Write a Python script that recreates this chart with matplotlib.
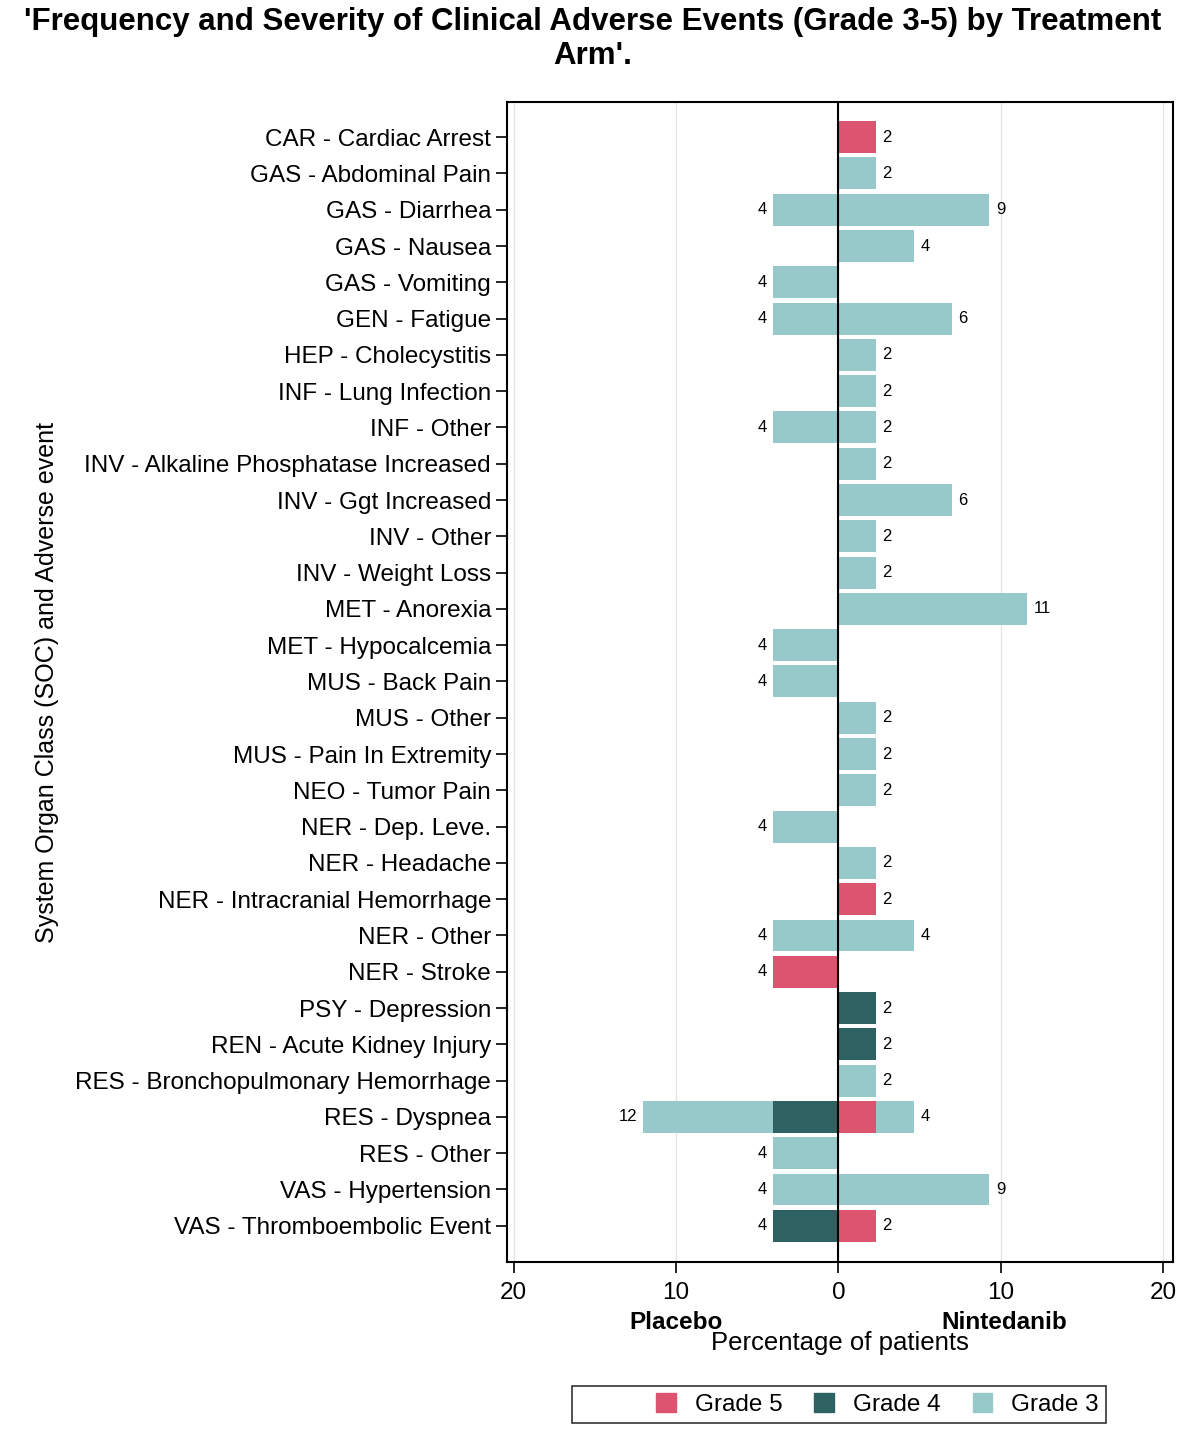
import matplotlib.pyplot as plt
from matplotlib.patches import Patch
import numpy as np

plt.rcParams['font.family'] = ['Liberation Sans', 'DejaVu Sans']

events = [
    "CAR - Cardiac Arrest", "GAS - Abdominal Pain", "GAS - Diarrhea", "GAS - Nausea",
    "GAS - Vomiting", "GEN - Fatigue", "HEP - Cholecystitis", "INF - Lung Infection",
    "INF - Other", "INV - Alkaline Phosphatase Increased", "INV - Ggt Increased",
    "INV - Other", "INV - Weight Loss", "MET - Anorexia", "MET - Hypocalcemia",
    "MUS - Back Pain", "MUS - Other", "MUS - Pain In Extremity", "NEO - Tumor Pain",
    "NER - Dep. Leve.", "NER - Headache", "NER - Intracranial Hemorrhage", "NER - Other",
    "NER - Stroke", "PSY - Depression", "REN - Acute Kidney Injury",
    "RES - Bronchopulmonary Hemorrhage", "RES - Dyspnea", "RES - Other",
    "VAS - Hypertension", "VAS - Thromboembolic Event",
]

# percentage of patients, Placebo arm
placebo_g5 = [0, 0, 0, 0, 0, 0, 0, 0, 0, 0, 0, 0, 0, 0, 0, 0, 0, 0, 0, 0, 0, 0, 0, 4.0, 0, 0, 0, 0, 0, 0, 0]
placebo_g4 = [0, 0, 0, 0, 0, 0, 0, 0, 0, 0, 0, 0, 0, 0, 0, 0, 0, 0, 0, 0, 0, 0, 0, 0, 0, 0, 0, 4.0, 0, 0, 4.0]
placebo_g3 = [0, 0, 4.0, 0, 4.0, 4.0, 0, 0, 4.0, 0, 0, 0, 0, 0, 4.0, 4.0, 0, 0, 0, 4.0, 0, 0, 4.0, 0, 0, 0, 0, 8.0, 4.0, 4.0, 0]
placebo_lbl = ["", "", "4", "", "4", "4", "", "", "4", "", "", "", "", "", "4", "4", "", "", "", "4", "", "", "4", "4", "", "", "", "12", "4", "4", "4"]

# percentage of patients, Nintedanib arm
ninted_g5 = [2.3, 0, 0, 0, 0, 0, 0, 0, 0, 0, 0, 0, 0, 0, 0, 0, 0, 0, 0, 0, 0, 2.3, 0, 0, 0, 0, 0, 2.3, 0, 0, 2.3]
ninted_g4 = [0, 0, 0, 0, 0, 0, 0, 0, 0, 0, 0, 0, 0, 0, 0, 0, 0, 0, 0, 0, 0, 0, 0, 0, 2.3, 2.3, 0, 0, 0, 0, 0]
ninted_g3 = [0, 2.3, 9.3, 4.65, 0, 7.0, 2.3, 2.3, 2.3, 2.3, 7.0, 2.3, 2.3, 11.6, 0, 0, 2.3, 2.3, 2.3, 0, 2.3, 0, 4.65, 0, 0, 0, 2.3, 2.35, 0, 9.3, 0]
ninted_lbl = ["2", "2", "9", "4", "", "6", "2", "2", "2", "2", "6", "2", "2", "11", "", "", "2", "2", "2", "", "2", "2", "4", "", "2", "2", "2", "4", "", "9", "2"]

c5, c4, c3 = "#dc5470", "#2e6262", "#97c9ca"

y = np.arange(len(events))
p5 = np.array(placebo_g5)
p4 = np.array(placebo_g4)
p3 = np.array(placebo_g3)
n5 = np.array(ninted_g5)
n4 = np.array(ninted_g4)
n3 = np.array(ninted_g3)

fig = plt.figure(figsize=(11.86, 14.46), dpi=100)
ax = fig.add_axes([0.4275, 0.1272, 0.5615, 0.8023])

h = 0.88
# placebo to the left (negative), nintedanib to the right
ax.barh(y, -p5, height=h, color=c5, zorder=2)
ax.barh(y, -p4, left=-p5, height=h, color=c4, zorder=2)
ax.barh(y, -p3, left=-(p5 + p4), height=h, color=c3, zorder=2)
ax.barh(y, n5, height=h, color=c5, zorder=2)
ax.barh(y, n4, left=n5, height=h, color=c4, zorder=2)
ax.barh(y, n3, left=n5 + n4, height=h, color=c3, zorder=2)

ptot = p5 + p4 + p3
ntot = n5 + n4 + n3
for i in range(len(events)):
    if placebo_lbl[i]:
        ax.text(-ptot[i] - 0.4, y[i], placebo_lbl[i], ha="right", va="center", fontsize=12)
    if ninted_lbl[i]:
        ax.text(ntot[i] + 0.4, y[i], ninted_lbl[i], ha="left", va="center", fontsize=12)

ax.axvline(0, color="black", lw=1.5, zorder=3)
ax.set_xlim(-20.4, 20.6)
ax.set_ylim(31.0, -0.97)
ax.set_xticks([-20, -10, 0, 10, 20])
ax.set_xticklabels(["20", "10", "0", "10", "20"])
ax.set_yticks(y)
ax.set_yticklabels(events)
ax.xaxis.grid(True, color="#e6e6e6", lw=1, zorder=0)
ax.tick_params(axis="both", labelsize=17.5, length=8, width=1.2, direction="out")
ax.tick_params(axis="x", pad=6)
for s in ax.spines.values():
    s.set_linewidth(1.5)

ax.set_xlabel("Percentage of patients", fontsize=18.5, labelpad=20)
ax.set_ylabel("System Organ Class (SOC) and Adverse event", fontsize=18, labelpad=12)
ax.text(-10, -0.052, "Placebo", transform=ax.get_xaxis_transform(), ha="center", va="center",
        fontsize=17.5, fontweight="bold")
ax.text(10.2, -0.052, "Nintedanib", transform=ax.get_xaxis_transform(), ha="center", va="center",
        fontsize=17.5, fontweight="bold")

fig.suptitle("'Frequency and Severity of Clinical Adverse Events (Grade 3-5) by Treatment\nArm'.",
             fontsize=22.5, fontweight="bold", y=0.995, linespacing=1.15)

handles = [Patch(color="none", label=" "), Patch(color=c5, label="Grade 5"),
           Patch(color=c4, label="Grade 4"), Patch(color=c3, label="Grade 3")]
leg = fig.legend(handles=handles, loc="center", bbox_to_anchor=(0.7075, 0.0285), ncol=4, fontsize=17.5,
                 frameon=True, fancybox=False, edgecolor="black", handlelength=0.8, handleheight=0.8,
                 columnspacing=1.3, handletextpad=0.8, borderpad=0.3)
leg.get_frame().set_linewidth(1.2)

fig.savefig("out.png", dpi=100)
